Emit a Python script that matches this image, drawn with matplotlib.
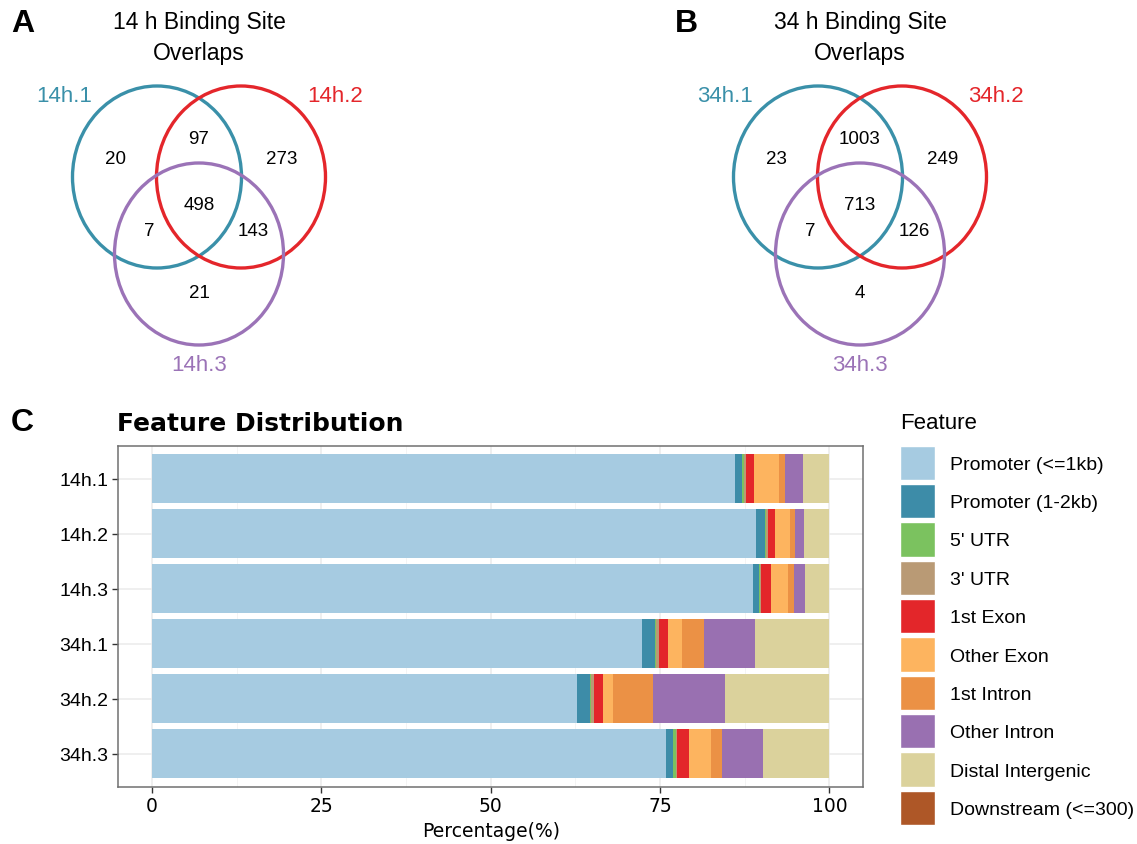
import numpy as np
import matplotlib
matplotlib.use('Agg')
import matplotlib.pyplot as plt
from matplotlib.patches import Ellipse, Patch
from matplotlib.ticker import MultipleLocator

# ── DATA ──────────────────────────────────────────────────────────────

samples = ['14h.1', '14h.2', '14h.3', '34h.1', '34h.2', '34h.3']

features = ['Promoter (<=1kb)', 'Promoter (1-2kb)', "5' UTR", "3' UTR",
            '1st Exon', 'Other Exon', '1st Intron', 'Other Intron',
            'Distal Intergenic', 'Downstream (<=300)']

promoter_1kb  = [86.0, 89.1, 88.7, 72.3, 62.7, 75.9]
promoter_2kb  = [1.1, 1.4, 0.9, 1.9, 2.0, 1.0]
utr5          = [0.3, 0.2, 0.2, 0.2, 0.1, 0.4]
utr3          = [0.3, 0.2, 0.1, 0.5, 0.4, 0.2]
exon_1st      = [1.2, 1.1, 1.4, 1.3, 1.3, 1.8]
exon_other    = [3.7, 2.2, 2.6, 2.0, 1.5, 3.2]
intron_1st    = [0.8, 0.7, 0.9, 3.3, 6.0, 1.6]
intron_other  = [2.7, 1.3, 1.6, 7.5, 10.6, 6.1]
distal        = [3.9, 3.8, 3.6, 10.9, 15.4, 9.8]
downstream    = [0.0, 0.0, 0.0, 0.1, 0.0, 0.0]

# Venn region order: only 1, 1&2, only 2, all, 1&3, 2&3, only 3
venn_14h_sets   = ['14h.1', '14h.2', '14h.3']
venn_14h_counts = [20, 97, 273, 498, 7, 143, 21]
venn_34h_sets   = ['34h.1', '34h.2', '34h.3']
venn_34h_counts = [23, 1003, 249, 713, 7, 126, 4]

# ── STYLE ─────────────────────────────────────────────────────────────

FONT = 'Liberation Sans'
feature_colors = ['#A6CBE1', '#3D8CA8', '#7BC25F', '#B99A75', '#E3262A',
                  '#FDB45F', '#EB9145', '#9970B1', '#DBD29C', '#AE5727']
venn_colors = ['#3A90A9', '#E4262B', '#9B73B7']

region_offsets = [(-84, 159), (0, 140), (83, 159), (0, 206),
                  (-50, 232), (54, 232), (0, 294)]
circle_offsets = [(-42, 178), (42, 178), (0, 255)]
label_offsets  = [(-135, 96), (136, 96), (0, 366)]

fig = plt.figure(figsize=(11.37, 8.45), dpi=100)

# overlay in pixel coordinates for the Venn panels and panel letters
ov = fig.add_axes([0, 0, 1, 1])
ov.set_xlim(0, 1137)
ov.set_ylim(845, 0)
ov.axis('off')


def draw_venn(cx, letter, letter_x, title, sets, counts):
    ov.text(letter_x, 24, letter, fontsize=23, fontweight='bold',
            family=FONT, ha='center', va='center')
    ov.text(cx, 38, title, fontsize=16.5, family=FONT,
            ha='center', va='center', linespacing=1.4)
    for (dx, dy), col in zip(circle_offsets, venn_colors):
        ov.add_patch(Ellipse((cx + dx, dy), 169, 182, fill=False,
                             edgecolor=col, linewidth=2.4))
    for (dx, dy), name, col in zip(label_offsets, sets, venn_colors):
        ov.text(cx + dx, dy, name, color=col, fontsize=16,
                family=FONT, ha='center', va='center')
    for (dx, dy), n in zip(region_offsets, counts):
        ov.text(cx + dx, dy, str(n), fontsize=13.5, family=FONT,
                ha='center', va='center')


draw_venn(199, 'A', 23, '14 h Binding Site\nOverlaps',
          venn_14h_sets, venn_14h_counts)
draw_venn(860, 'B', 686, '34 h Binding Site\nOverlaps',
          venn_34h_sets, venn_34h_counts)

# ── PANEL C: stacked bars ─────────────────────────────────────────────

ax = fig.add_axes([118.3 / 1137, 1 - 787.7 / 845,
                   745 / 1137, 341 / 845])

series = [promoter_1kb, promoter_2kb, utr5, utr3, exon_1st, exon_other,
          intron_1st, intron_other, distal, downstream]
ypos = np.arange(len(samples))
left = np.zeros(len(samples))
for vals, col, name in zip(series, feature_colors, features):
    vals = np.array(vals)
    ax.barh(ypos, vals, left=left, height=0.9, color=col,
            label=name, zorder=3)
    left += vals

ax.set_xlim(-5, 105)
ax.set_ylim(5.6, -0.6)
ax.set_yticks(ypos)
ax.set_yticklabels(samples, family=FONT, fontsize=14)
ax.xaxis.set_major_locator(MultipleLocator(25))
ax.xaxis.set_minor_locator(MultipleLocator(12.5))
ax.tick_params(axis='x', labelsize=13.5, length=4, width=1,
               color='#333333', pad=3)
ax.tick_params(axis='y', length=4, width=1, color='#333333', pad=3)
ax.tick_params(which='minor', length=0)
ax.grid(which='major', color='#EBEBEB', linewidth=1.1, zorder=0)
ax.grid(which='minor', axis='x', color='#F2F2F2', linewidth=0.6,
        zorder=0)
ax.set_axisbelow(True)
for spine in ax.spines.values():
    spine.set_edgecolor('#707070')
    spine.set_linewidth(1.1)
ax.set_xlabel('Percentage(%)', fontsize=13.5, labelpad=4)

ov.text(22, 423, 'C', fontsize=23, fontweight='bold', family=FONT,
        ha='center', va='center')
ov.text(117, 424, 'Feature Distribution', fontsize=18,
        fontweight='bold', ha='left', va='center')

handles = [Patch(facecolor=c, edgecolor='white', linewidth=1.0)
           for c in feature_colors]
leg = fig.legend(handles, features, loc='upper left',
                 bbox_to_anchor=(900 / 1137, 1 - 413 / 845),
                 frameon=False, title='Feature',
                 prop={'family': FONT, 'size': 14},
                 title_fontproperties={'family': FONT, 'size': 16},
                 handlelength=1.8, handleheight=2.35,
                 labelspacing=0.2, handletextpad=0.75, borderpad=0,
                 borderaxespad=0)
leg._legend_box.align = 'left'
leg._legend_box.sep = 9

plt.savefig('out.png', dpi=100, facecolor='white')
